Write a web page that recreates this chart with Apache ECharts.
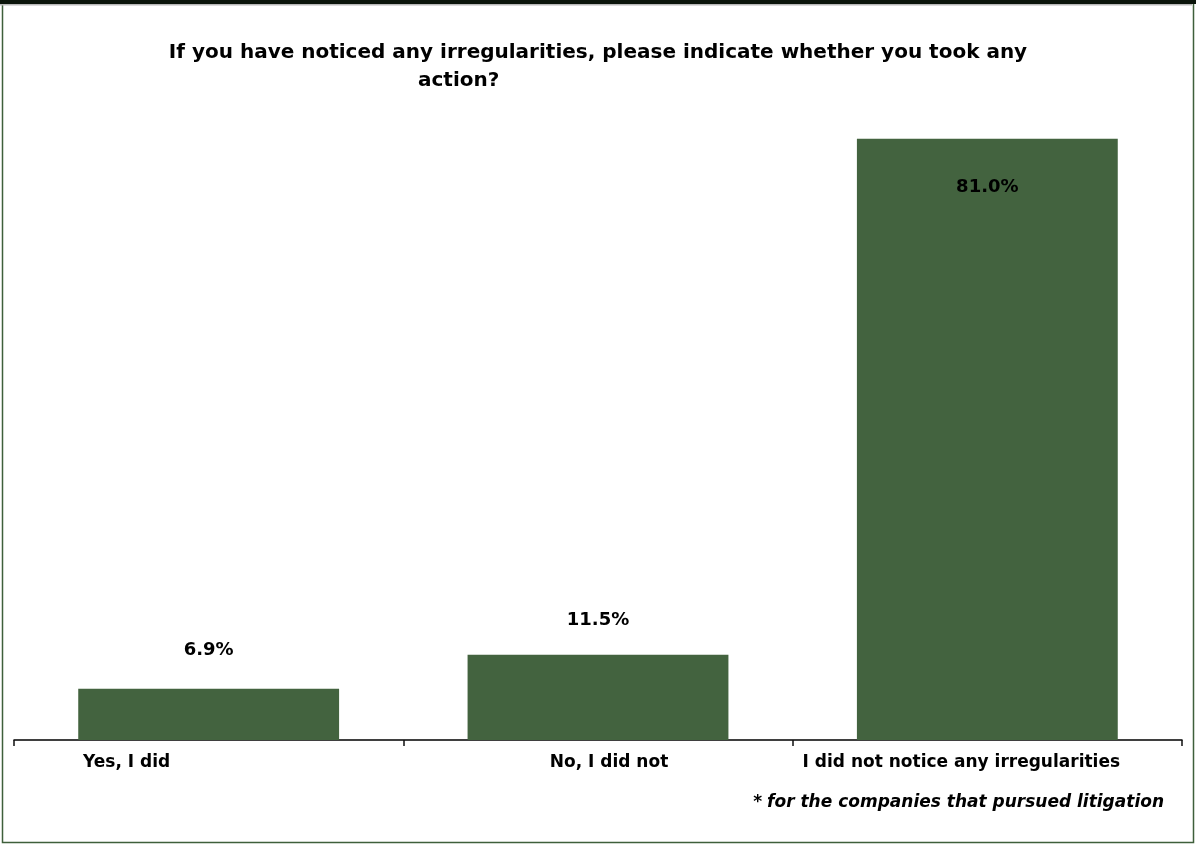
<!DOCTYPE html>
<html>
<head>
<meta charset="utf-8">
<script src="https://cdn.jsdelivr.net/npm/echarts@6/dist/echarts.min.js"></script>
<style>
  html, body { margin: 0; padding: 0; background: #fff; }
  #chart { width: 1196px; height: 846px; }
</style>
</head>
<body>
<div id="chart"></div>
<script>
// Survey answers and their shares (percent of respondents)
const categories = ['Yes, I did', 'No, I did not', 'I did not notice any irregularities'];
const shares = [6.9, 11.5, 81.0];
const titleLine1 = 'If you have noticed any irregularities, please indicate whether you took any';
const titleLine2 = 'action?';
const footnote = 'for the companies that pursued litigation';

const FONT = '"DejaVu Sans", Verdana, sans-serif';
const BAR = '#43633f';

// per-bar label placement
const labelPlacement = [
  { position: 'top', distance: 29 },
  { position: 'top', distance: 25 },
  { position: 'insideTop', distance: 40 }
];
// horizontal nudge for each category label (px of padding)
const catPad = [[0, 164, 0, 0], [0, 0, 0, 22], [0, 52, 0, 0]];

const catStyle = { fontFamily: FONT, fontWeight: 'bold', fontSize: 17, color: '#000' };

const chart = echarts.init(document.getElementById('chart'), null, { renderer: 'canvas' });
chart.setOption({
  backgroundColor: '#ffffff',
  animation: false,
  title: [
    {
      text: titleLine1, left: 'center', top: 38,
      textStyle: { fontFamily: FONT, fontWeight: 'bold', fontSize: 20, color: '#000' }
    },
    {
      text: titleLine2, left: 413, top: 66,
      textStyle: { fontFamily: FONT, fontWeight: 'bold', fontSize: 20, color: '#000' }
    },
    {
      text: '{s|*} {t|' + footnote + '}', right: 27, top: 789,
      textStyle: {
        rich: {
          s: { fontFamily: FONT, fontWeight: 'bold', fontSize: 17, color: '#000' },
          t: { fontFamily: FONT, fontWeight: 'bold', fontStyle: 'italic', fontSize: 17, color: '#000' }
        }
      }
    }
  ],
  grid: { left: 14, right: 14, top: 72, bottom: 106, containLabel: false },
  xAxis: {
    type: 'category',
    data: categories,
    axisLine: { lineStyle: { color: '#000', width: 1.5 } },
    axisTick: { show: true, length: 6, lineStyle: { color: '#111', width: 1.5 } },
    axisLabel: {
      margin: 14,
      formatter: function (v, i) { return '{c' + i + '|' + v + '}'; },
      rich: {
        c0: Object.assign({ padding: catPad[0] }, catStyle),
        c1: Object.assign({ padding: catPad[1] }, catStyle),
        c2: Object.assign({ padding: catPad[2] }, catStyle)
      }
    }
  },
  yAxis: {
    type: 'value', min: 0, max: 90, show: false,
    splitLine: { show: false }
  },
  series: [{
    type: 'bar',
    barWidth: '67%',
    itemStyle: { color: BAR },
    data: shares.map((v, i) => ({
      value: v,
      label: {
        show: true,
        position: labelPlacement[i].position,
        distance: labelPlacement[i].distance,
        formatter: (p) => p.value.toFixed(1) + '%',
        fontFamily: FONT, fontWeight: 'bold', fontSize: 18, color: '#000'
      }
    }))
  }],
  graphic: [
    {
      type: 'rect', silent: true,
      shape: { x: 2.5, y: 2.5, width: 1191, height: 840 },
      style: { fill: 'none', stroke: '#3f5f3b', lineWidth: 1.5 }
    },
    {
      type: 'rect', silent: true,
      shape: { x: 0, y: 0, width: 1196, height: 4 },
      style: { fill: '#0a140a' }
    },
    {
      type: 'rect', silent: true,
      shape: { x: 0, y: 4, width: 1192, height: 1.5 },
      style: { fill: '#b8b8b8' }
    }
  ]
});
</script>
</body>
</html>
